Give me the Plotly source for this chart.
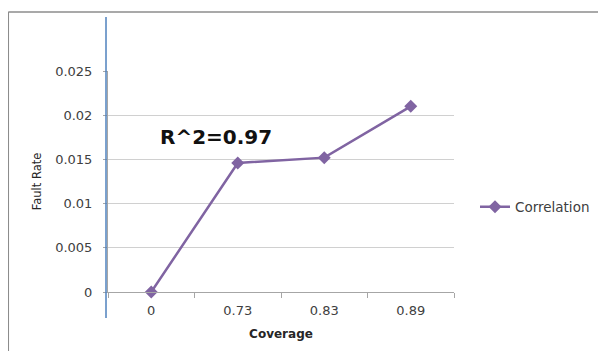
import plotly.graph_objects as go

categories = ["0", "0.73", "0.83", "0.89"]
fault_rate = [0.0, 0.0146, 0.0152, 0.0210]
y_ticks = [0, 0.005, 0.01, 0.015, 0.02, 0.025]
y_tick_labels = ["0", "0.005", "0.01", "0.015", "0.02", "0.025"]

# page body has an 8px margin, so the figure is drawn at (8, 8) on screen
OFF = 8
W, H = 606 - OFF, 351 - OFF
L_s, T_s, PW, PH = 108, 71, 347, 221   # plot area in screen pixels
L, T = L_s - OFF, T_s - OFF
R, B = W - L - PW, H - T - PH

def px(x):
    return (x - L_s) / PW

def py(y):
    return (T_s + PH - y) / PH

purple = "#8064A2"
FONT = "DejaVu Sans, Open Sans, sans-serif"

fig = go.Figure()
fig.add_trace(go.Scatter(
    x=categories, y=fault_rate, mode="lines+markers", name="Correlation",
    line=dict(color=purple, width=2.5),
    marker=dict(symbol="diamond", size=10, color=purple),
    cliponaxis=False,
))

fig.update_layout(
    width=W, height=H,
    margin=dict(l=L, r=R, t=T, b=B),
    paper_bgcolor="white", plot_bgcolor="white",
    font=dict(family=FONT, size=13, color="#404040"),
    showlegend=True,
    legend=dict(x=px(475), y=py(207), xanchor="left", yanchor="middle",
                font=dict(size=13.5, color="#404040"), itemwidth=30,
                bgcolor="rgba(0,0,0,0)"),
    xaxis=dict(
        type="category", range=[-0.5, 3.5], showgrid=False,
        showline=True, linecolor="#A6A6A6", linewidth=1,
        ticks="outside", tickson="boundaries", ticklen=5, tickcolor="#A6A6A6",
        title=dict(text="<b>Coverage</b>", font=dict(size=12, color="#262626"), standoff=13),
        tickfont=dict(size=13, color="#404040"),
        ticklabelstandoff=6,
    ),
    yaxis=dict(
        range=[0, 0.025], tickvals=y_ticks, ticktext=y_tick_labels,
        showgrid=True, gridcolor="#D0D0D0", gridwidth=1,
        showline=True, linecolor="#A6A6A6", linewidth=1,
        ticks="outside", ticklen=4, tickcolor="#A6A6A6",
        zeroline=False,
        title=dict(text="Fault Rate", font=dict(size=11.5, color="#262626"), standoff=11),
        tickfont=dict(size=13, color="#404040"),
        ticklabelstandoff=8,
    ),
    annotations=[dict(
        x=px(216), y=py(137), xref="paper", yref="paper",
        text="<b>R^2=0.97</b>", showarrow=False,
        font=dict(size=20, color="#111111", family=FONT),
        xanchor="center", yanchor="middle",
    )],
    shapes=[
        dict(type="line", xref="paper", yref="paper",
             x0=px(8), x1=px(620), y0=py(12), y1=py(12),
             line=dict(color="#8C8C8C", width=1.5)),
        dict(type="line", xref="paper", yref="paper",
             x0=px(8), x1=px(8), y0=py(12), y1=py(360),
             line=dict(color="#8C8C8C", width=1.5)),
        dict(type="line", xref="paper", yref="paper",
             x0=px(106), x1=px(106), y0=py(17), y1=py(318),
             line=dict(color="#4F81BD", width=1.5)),
    ],
)

fig.write_html("out.html")
